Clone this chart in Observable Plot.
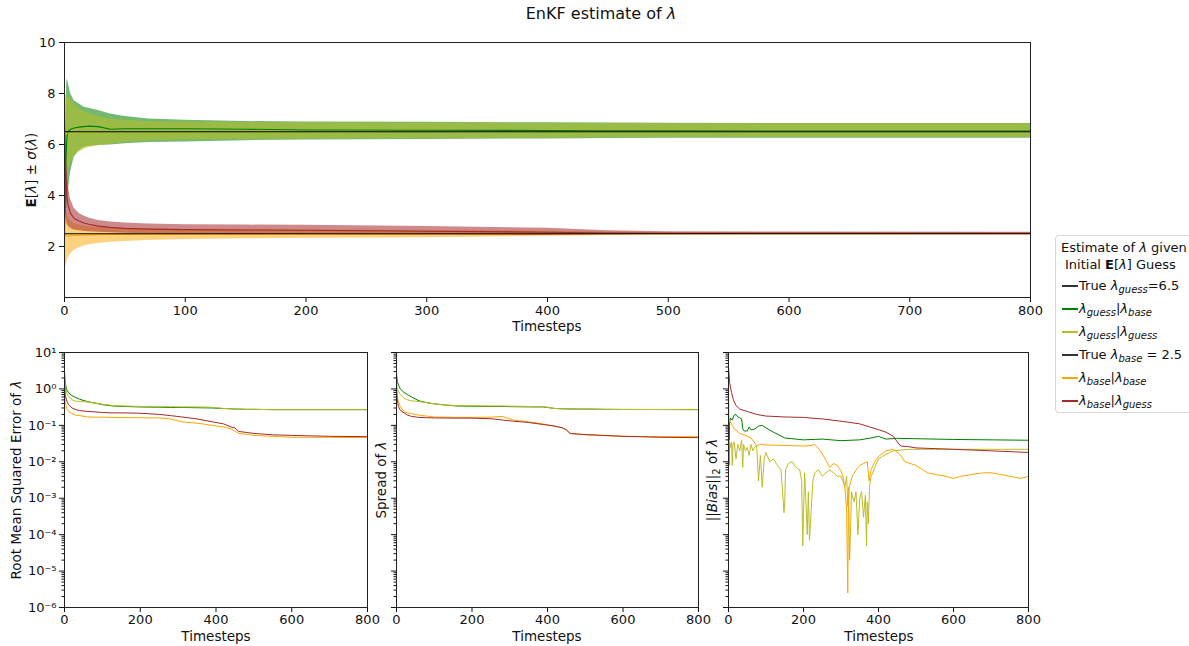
<!DOCTYPE html>
<html>
<head>
<meta charset="utf-8">
<script src="https://cdn.jsdelivr.net/npm/d3@7"></script>
<script src="https://cdn.jsdelivr.net/npm/@observablehq/plot@0.6"></script>
<style>
  body { margin: 0; background: #fff; font-family: "DejaVu Sans", sans-serif; }
  #root { position: relative; width: 1189px; height: 646px; overflow: hidden; }
  .pane { position: absolute; }
  .lbl { position: absolute; font-size: 13.5px; line-height: 14px; color: #111; white-space: nowrap; transform: translate(-50%, -50%); }
  .rot { transform: translate(-50%, -50%) rotate(-90deg); }
  .legend { position: absolute; left: 1055px; top: 235px; width: 150px; height: 178px; border: 1px solid #d6d6d6; border-radius: 4px; font-size: 13px; color: #111; box-sizing: border-box; padding: 3px 0 0 6px; line-height: 17px; background: #fff; }
  .legend .row { display: flex; align-items: center; height: 23px; }
  .legend .sw { display: inline-block; width: 16px; height: 2px; margin-right: 1px; flex: none; }
  sub { font-size: 10px; vertical-align: -3px; line-height: 0; }
</style>
</head>
<body>
<div id="root"></div>
<script>
// ---------- Top panel data: E[λ] ± σ(λ) ----------
const topT = [0, 1, 2, 3, 5, 8, 12, 16, 20, 28, 38, 50, 70, 100, 150, 200, 300, 400, 450, 500, 600, 800];

const guessBaseMean = [2.5, 5.2, 6.3, 6.5, 6.6, 6.65, 6.68, 6.7, 6.72, 6.7, 6.6, 6.62, 6.62, 6.62, 6.6, 6.57, 6.56, 6.55, 6.54, 6.54, 6.53, 6.53];
const guessBaseHi   = [4.0, 7.0, 8.57, 8.45, 8.0, 7.72, 7.6, 7.47, 7.42, 7.33, 7.2, 7.1, 7.0, 6.95, 6.9, 6.88, 6.87, 6.85, 6.84, 6.83, 6.82, 6.82];
const guessBaseLo   = [1.0, 3.2, 3.6, 4.1, 4.9, 5.5, 5.75, 5.88, 5.92, 5.96, 5.98, 6.03, 6.08, 6.1, 6.15, 6.18, 6.2, 6.22, 6.24, 6.25, 6.25, 6.25];

const guessGuessMean = [6.5, 6.45, 6.42, 6.43, 6.45, 6.47, 6.48, 6.48, 6.49, 6.5, 6.5, 6.5, 6.5, 6.5, 6.5, 6.5, 6.5, 6.5, 6.5, 6.5, 6.5, 6.5];
const guessGuessHi   = [8.0, 7.95, 7.9, 7.85, 7.8, 7.6, 7.42, 7.3, 7.22, 7.1, 7.0, 6.95, 6.9, 6.88, 6.86, 6.85, 6.84, 6.83, 6.82, 6.81, 6.8, 6.8];
const guessGuessLo   = [5.0, 4.7, 4.8, 5.0, 5.27, 5.55, 5.7, 5.8, 5.88, 5.95, 6.02, 6.08, 6.15, 6.18, 6.2, 6.22, 6.23, 6.25, 6.26, 6.27, 6.27, 6.27];

const baseBaseMean = [2.5, 2.42, 2.4, 2.41, 2.42, 2.43, 2.44, 2.45, 2.45, 2.46, 2.47, 2.47, 2.48, 2.48, 2.48, 2.49, 2.49, 2.5, 2.5, 2.5, 2.5, 2.5];
const baseBaseHi   = [4.0, 3.6, 3.3, 3.15, 3.0, 2.9, 2.85, 2.8, 2.77, 2.74, 2.72, 2.7, 2.68, 2.67, 2.66, 2.65, 2.63, 2.6, 2.57, 2.55, 2.55, 2.54];
const baseBaseLo   = [0.9, 1.2, 1.4, 1.55, 1.7, 1.85, 1.95, 2.02, 2.07, 2.12, 2.17, 2.2, 2.24, 2.27, 2.3, 2.32, 2.34, 2.4, 2.43, 2.45, 2.46, 2.47];

const baseGuessMean = [6.5, 5.0, 4.0, 3.6, 3.3, 3.1, 3.0, 2.92, 2.87, 2.8, 2.75, 2.71, 2.68, 2.66, 2.65, 2.64, 2.6, 2.56, 2.53, 2.52, 2.52, 2.52];
const baseGuessHi   = [8.0, 6.8, 5.3, 4.4, 3.85, 3.5, 3.3, 3.2, 3.12, 3.02, 2.96, 2.92, 2.88, 2.85, 2.84, 2.83, 2.78, 2.72, 2.62, 2.58, 2.57, 2.56];
const baseGuessLo   = [5.0, 3.2, 2.9, 2.8, 2.72, 2.65, 2.62, 2.6, 2.58, 2.56, 2.54, 2.52, 2.5, 2.48, 2.47, 2.46, 2.44, 2.43, 2.46, 2.48, 2.48, 2.48];

const trueGuess = 6.5;
const trueBase = 2.5;

// ---------- Bottom panels: RMSE and spread ----------
const tGrid = [0, 2, 5, 10, 20, 30, 40, 60, 80, 100, 130, 160, 200, 250, 280, 310, 350, 390, 420, 440, 450, 460, 480, 500, 550, 600, 700, 800];

const rmseGuessBase  = [3.0, 1.5, 1.0, 0.8, 0.65, 0.58, 0.52, 0.45, 0.41, 0.37, 0.34, 0.33, 0.32, 0.315, 0.31, 0.31, 0.305, 0.3, 0.29, 0.285, 0.28, 0.28, 0.275, 0.275, 0.27, 0.27, 0.27, 0.27];
const rmseGuessGuess = [2.0, 1.2, 0.8, 0.65, 0.5, 0.46, 0.45, 0.44, 0.41, 0.38, 0.35, 0.34, 0.33, 0.325, 0.325, 0.32, 0.32, 0.315, 0.29, 0.285, 0.28, 0.28, 0.275, 0.275, 0.27, 0.27, 0.27, 0.27];
const rmseBaseBase   = [1.0, 0.45, 0.3, 0.25, 0.21, 0.19, 0.185, 0.17, 0.168, 0.168, 0.165, 0.163, 0.162, 0.16, 0.15, 0.125, 0.115, 0.1, 0.09, 0.08, 0.07, 0.06, 0.057, 0.053, 0.05, 0.047, 0.047, 0.046];
const rmseBaseGuess  = [1.3, 0.7, 0.5, 0.38, 0.3, 0.27, 0.255, 0.24, 0.235, 0.225, 0.22, 0.22, 0.215, 0.2, 0.185, 0.17, 0.15, 0.125, 0.11, 0.09, 0.085, 0.068, 0.064, 0.06, 0.055, 0.053, 0.05, 0.049];

const spreadGuessBase  = [2.7, 1.6, 1.29, 1.0, 0.8, 0.69, 0.6, 0.47, 0.42, 0.39, 0.36, 0.34, 0.335, 0.33, 0.33, 0.325, 0.322, 0.32, 0.29, 0.285, 0.283, 0.282, 0.28, 0.28, 0.275, 0.273, 0.272, 0.27];
const spreadGuessGuess = [1.5, 1.0, 0.85, 0.7, 0.56, 0.5, 0.47, 0.45, 0.42, 0.39, 0.36, 0.35, 0.345, 0.34, 0.34, 0.335, 0.33, 0.325, 0.29, 0.285, 0.283, 0.282, 0.28, 0.28, 0.275, 0.273, 0.272, 0.27];
const spreadBaseBase   = [1.2, 0.6, 0.45, 0.33, 0.24, 0.22, 0.21, 0.19, 0.18, 0.17, 0.168, 0.166, 0.165, 0.168, 0.176, 0.14, 0.125, 0.108, 0.095, 0.085, 0.075, 0.06, 0.057, 0.055, 0.052, 0.05, 0.049, 0.049];
const spreadBaseGuess  = [1.0, 0.5, 0.33, 0.26, 0.22, 0.19, 0.176, 0.165, 0.162, 0.16, 0.159, 0.158, 0.158, 0.152, 0.14, 0.13, 0.12, 0.105, 0.095, 0.085, 0.075, 0.06, 0.058, 0.056, 0.053, 0.05, 0.047, 0.046];

// ---------- Bias panel ----------
const biasGuessBaseT = [0, 1, 3, 5, 10, 15, 20, 25, 30, 35, 38, 42, 50, 55, 60, 70, 80, 90, 100, 120, 150, 200, 250, 300, 350, 380, 400, 420, 450, 500, 600, 700, 800];
const biasGuessBase  = [4.0, 0.008, 0.12, 0.16, 0.14, 0.19, 0.2, 0.17, 0.16, 0.15, 0.08, 0.07, 0.07, 0.09, 0.075, 0.08, 0.095, 0.1, 0.085, 0.065, 0.045, 0.04, 0.042, 0.038, 0.04, 0.045, 0.05, 0.042, 0.044, 0.043, 0.041, 0.04, 0.039];

const biasGuessGuessT = [0, 2, 5, 8, 10, 12, 15, 20, 25, 30, 35, 38, 40, 45, 50, 55, 60, 65, 70, 75, 80, 85, 90, 95, 100, 110, 120, 130, 140, 148, 150, 152, 160, 170, 180, 190, 195, 198, 200, 203, 206, 210, 213, 216, 220, 225, 230, 240, 250, 260, 270, 280, 290, 300, 305, 310, 315, 318, 320, 323, 325, 328, 330, 335, 340, 345, 350, 355, 360, 365, 368, 370, 373, 376, 380, 385, 390, 400, 410, 420, 430, 440, 460, 480, 500, 550, 600, 700, 800];
const biasGuessGuess  = [0.0075, 0.04, 0.025, 0.035, 0.008, 0.03, 0.035, 0.012, 0.03, 0.02, 0.04, 0.007, 0.03, 0.02, 0.025, 0.015, 0.03, 0.02, 0.025, 0.028, 0.003, 0.015, 0.002, 0.012, 0.018, 0.01, 0.012, 0.008, 0.006, 0.0004, 0.0008, 0.006, 0.009, 0.01, 0.007, 0.006, 0.003, 0.00005, 0.0004, 0.005, 0.001, 0.0001, 0.0015, 0.00007, 0.0004, 0.003, 0.005, 0.006, 0.004, 0.005, 0.006, 0.005, 0.004, 0.004, 0.003, 0.002, 0.004, 0.0006, 0.002, 0.00002, 0.0001, 0.0015, 0.0012, 0.0008, 0.0015, 0.0001, 0.001, 0.0015, 0.0003, 0.0012, 0.00005, 0.0008, 0.0002, 0.002, 0.004, 0.005, 0.007, 0.012, 0.014, 0.016, 0.018, 0.02, 0.021, 0.022, 0.022, 0.022, 0.022, 0.022, 0.022];

const biasBaseBaseT = [0, 3, 8, 15, 20, 30, 40, 50, 60, 75, 90, 100, 150, 200, 220, 230, 245, 260, 270, 280, 290, 300, 305, 310, 315, 318, 320, 322, 330, 340, 350, 360, 370, 375, 380, 390, 400, 420, 440, 460, 470, 500, 530, 550, 580, 600, 620, 650, 680, 700, 750, 780, 800];
const biasBaseBase  = [0.15, 0.13, 0.11, 0.08, 0.075, 0.06, 0.055, 0.05, 0.045, 0.028, 0.03, 0.029, 0.028, 0.027, 0.028, 0.03, 0.02, 0.011, 0.007, 0.009, 0.008, 0.0056, 0.004, 0.002, 0.0005, 0.0000025, 0.0009, 0.002, 0.004, 0.006, 0.008, 0.009, 0.01, 0.003, 0.006, 0.01, 0.014, 0.02, 0.022, 0.015, 0.01, 0.008, 0.005, 0.0045, 0.004, 0.0035, 0.004, 0.0045, 0.005, 0.005, 0.004, 0.0035, 0.004];

const biasBaseGuessT = [0, 3, 8, 13, 20, 30, 50, 75, 100, 150, 200, 250, 300, 350, 400, 420, 440, 450, 460, 480, 500, 600, 700, 800];
const biasBaseGuess  = [4.0, 1.5, 0.8, 0.5, 0.35, 0.28, 0.24, 0.2, 0.18, 0.17, 0.165, 0.15, 0.13, 0.11, 0.076, 0.065, 0.05, 0.035, 0.027, 0.026, 0.024, 0.022, 0.02, 0.018];

// ---------- Tick labels / styling ----------
const topXTicks = [0, 100, 200, 300, 400, 500, 600, 700, 800];
const topYTicks = [2, 4, 6, 8, 10];
const bottomXTicks = [0, 200, 400, 600, 800];
const logYTicks = [1e-6, 1e-5, 1e-4, 1e-3, 1e-2, 1e-1, 1, 10];

const colGuessBase = "#008000";
const colGuessGuess = "#bcbd22";
const colBaseBase = "#ffa500";
const colBaseGuess = "#a52a2a";

// ---------- helpers ----------
const zipRows = (t, ...cols) => t.map((v, i) => ({ t: v, a: cols[0][i], b: cols[1] ? cols[1][i] : null }));
const supMap = { "-": "\u207B", "0": "\u2070", "1": "\u00B9", "2": "\u00B2", "3": "\u00B3", "4": "\u2074", "5": "\u2075", "6": "\u2076", "7": "\u2077", "8": "\u2078", "9": "\u2079" };
const logFmt = d => "10" + String(Math.round(Math.log10(d))).split("").map(c => supMap[c]).join("");
const minorTicks = [];
for (let e = -6; e < 1; e++) for (let m = 2; m <= 9; m++) minorTicks.push(m * Math.pow(10, e));

const rootEl = document.getElementById("root");
function place(el, left, topPx) { el.classList.add("pane"); el.style.left = left + "px"; el.style.top = topPx + "px"; rootEl.appendChild(el); }
function label(html, x, y, rot, size) {
  const d = document.createElement("div");
  d.className = "lbl" + (rot ? " rot" : "");
  d.innerHTML = html; d.style.left = x + "px"; d.style.top = y + "px";
  if (size) d.style.fontSize = size;
  rootEl.appendChild(d);
}
const plotStyle = { fontFamily: "DejaVu Sans, sans-serif", fontSize: "13px", color: "#111", background: "transparent", overflow: "visible" };

// ---------- top panel ----------
const band = (t, lo, hi, col, op) => Plot.areaY(zipRows(t, lo, hi), { x: "t", y1: "a", y2: "b", fill: col, fillOpacity: op });
const mline = (t, v, col, w = 1.1) => Plot.lineY(zipRows(t, v), { x: "t", y: "a", stroke: col, strokeWidth: w });

const topChart = Plot.plot({
  width: 1040, height: 310, marginLeft: 64, marginRight: 10, marginTop: 12, marginBottom: 43,
  style: plotStyle,
  x: { domain: [0, 800], ticks: topXTicks, label: null, tickSize: 5, tickPadding: 3 },
  y: { domain: [0, 10], ticks: topYTicks, label: null, tickSize: 5, tickPadding: 4 },
  marks: [
    band(topT, guessBaseLo, guessBaseHi, colGuessBase, 0.55),
    band(topT, guessGuessLo, guessGuessHi, colGuessGuess, 0.55),
    band(topT, baseBaseLo, baseBaseHi, colBaseBase, 0.5),
    band(topT, baseGuessLo, baseGuessHi, colBaseGuess, 0.55),
    mline(topT, guessBaseMean, colGuessBase),
    mline(topT, guessGuessMean, colGuessGuess),
    mline(topT, baseBaseMean, colBaseBase),
    mline(topT, baseGuessMean, colBaseGuess),
    Plot.ruleY([trueGuess], { x1: 0, x2: 800, stroke: "#000", strokeWidth: 1.1 }),
    Plot.ruleY([trueBase], { x1: 0, x2: 800, stroke: "#000", strokeWidth: 1.1 }),
    Plot.frame({ stroke: "#222", strokeWidth: 1 })
  ]
});
place(topChart, 0, 30);

// ---------- bottom panels ----------
function logPanel(series, left, width, mLeft, mRight, showLabels) {
  const marks = series.map(s => Plot.lineY(zipRows(s.t, s.v), { x: "t", y: "a", stroke: s.col, strokeWidth: 1 }));
  const p = Plot.plot({
    width, height: 306, marginLeft: mLeft, marginRight: mRight, marginTop: 12, marginBottom: 39,
    style: plotStyle,
    x: { domain: [0, 800], label: null },
    y: { type: "log", domain: [1e-6, 10], label: null },
    marks: [
      Plot.axisX(bottomXTicks, { tickSize: 5, tickPadding: 2, label: null }),
      Plot.axisY(logYTicks, { tickSize: 5, tickPadding: 3, label: null, tickFormat: showLabels ? logFmt : () => "" }),
      Plot.axisY(minorTicks, { tickSize: 2.5, label: null, tickFormat: () => "" }),
      ...marks,
      Plot.frame({ stroke: "#222", strokeWidth: 1 })
    ]
  });
  place(p, left, 340);
}

logPanel([
  { t: tGrid, v: rmseGuessBase, col: colGuessBase },
  { t: tGrid, v: rmseGuessGuess, col: colGuessGuess },
  { t: tGrid, v: rmseBaseBase, col: colBaseBase },
  { t: tGrid, v: rmseBaseGuess, col: colBaseGuess }
], 0, 380, 64, 13, true);

logPanel([
  { t: tGrid, v: spreadGuessBase, col: colGuessBase },
  { t: tGrid, v: spreadGuessGuess, col: colGuessGuess },
  { t: tGrid, v: spreadBaseBase, col: colBaseBase },
  { t: tGrid, v: spreadBaseGuess, col: colBaseGuess }
], 370, 340, 26, 12, false);

logPanel([
  { t: biasGuessBaseT, v: biasGuessBase, col: colGuessBase },
  { t: biasGuessGuessT, v: biasGuessGuess, col: colGuessGuess },
  { t: biasBaseBaseT, v: biasBaseBase, col: colBaseBase },
  { t: biasBaseGuessT, v: biasBaseGuess, col: colBaseGuess }
], 700, 340, 28, 12, false);

// ---------- texts ----------
label("EnKF estimate of <i>λ</i>", 601, 14, false, "16px");
label("<b>E</b>[<i>λ</i>] ± <i>σ</i>(<i>λ</i>)", 31, 170, true);
label("Timesteps", 547, 326);
label("Timesteps", 216, 636);
label("Timesteps", 547, 636);
label("Timesteps", 879, 636);
label("Root Mean Squared Error of <i>λ</i>", 16, 480, true);
label("Spread of <i>λ</i>", 381, 480, true);
label("||<i>Bias</i>||<sub>2</sub> of <i>λ</i>", 712, 480, true);

// ---------- legend ----------
const legendItems = [
  { col: "#333", html: "True <i>λ<sub>guess</sub></i>=6.5" },
  { col: colGuessBase, html: "<i>λ<sub>guess</sub></i>|<i>λ<sub>base</sub></i>" },
  { col: colGuessGuess, html: "<i>λ<sub>guess</sub></i>|<i>λ<sub>guess</sub></i>" },
  { col: "#333", html: "True <i>λ<sub>base</sub></i> = 2.5" },
  { col: colBaseBase, html: "<i>λ<sub>base</sub></i>|<i>λ<sub>base</sub></i>" },
  { col: colBaseGuess, html: "<i>λ<sub>base</sub></i>|<i>λ<sub>guess</sub></i>" }
];
const lg = document.createElement("div");
lg.className = "legend";
lg.innerHTML = `<div style="margin-left:-1px">Estimate of <i>λ</i> given</div><div style="margin-left:3px;margin-bottom:1px">Initial <b>E</b>[<i>λ</i>] Guess</div>` +
  legendItems.map(d => `<div class="row"><span class="sw" style="background:${d.col}"></span><span>${d.html}</span></div>`).join("");
rootEl.appendChild(lg);
</script>
</body>
</html>
